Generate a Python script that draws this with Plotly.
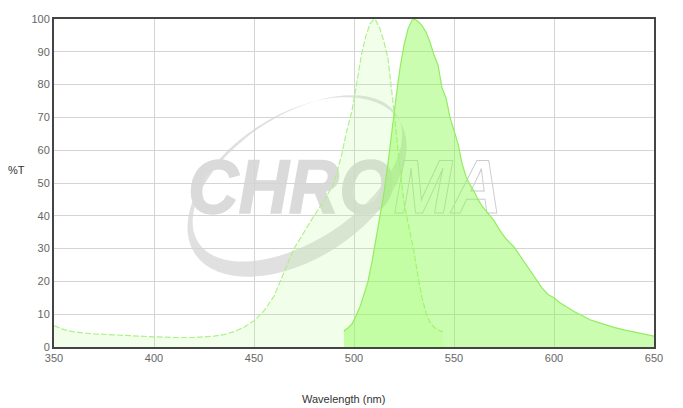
import base64
import plotly.graph_objects as go

# excitation spectrum (dashed, pale fill)
ex_wl = [350, 355, 360, 365, 370, 380, 390, 400, 410, 420, 430, 435, 440, 445,
         450, 455, 460, 463, 466, 470, 475, 480, 485, 490, 494, 496, 499, 501,
         504, 506, 508, 510, 511, 513, 515, 517, 519, 520, 522, 524, 525, 527,
         530, 532, 534, 536, 538, 540, 542, 544.5]
ex_val = [6.5, 5.3, 4.6, 4.2, 4.0, 3.7, 3.3, 3.1, 2.9, 2.9, 3.3, 3.8, 4.7, 6.0,
          8.0, 11.0, 15.5, 20.0, 24.5, 30.0, 35.0, 40.0, 44.5, 50.0, 59.0, 65.0, 72.0, 79.0,
          90.0, 95.0, 98.5, 100.0, 99.5, 97.0, 93.0, 88.0, 78.0, 72.0, 60.0, 49.0, 44.0, 38.0,
          29.0, 21.5, 15.0, 10.5, 7.5, 6.0, 5.2, 4.6]

# emission spectrum (solid fill)
em_wl = [495, 495.5, 497, 499, 501, 503, 505, 507, 509, 511, 513, 515, 517, 519,
         521, 523, 525, 527, 529, 530, 532, 534, 536, 538, 540, 542, 544, 546,
         548, 550, 552, 554, 556, 558, 560, 562, 564, 566, 568, 570, 573, 576,
         580, 584, 588, 591, 594, 597, 600, 603, 606, 610, 614, 618, 622, 626,
         630, 635, 640, 645, 650]
em_val = [4.6, 5.2, 5.8, 7.0, 9.5, 12.3, 16.0, 20.0, 26.0, 33.0, 40.0, 47.0, 56.0, 67.0,
          76.0, 85.0, 92.0, 97.0, 99.6, 100.0, 99.3, 98.0, 96.0, 93.0, 89.0, 86.0, 79.0, 76.0,
          70.0, 66.0, 62.0, 56.0, 52.0, 49.5, 47.5, 45.0, 43.0, 41.5, 40.0, 38.5, 35.5, 33.0,
          30.5, 27.0, 23.5, 20.5, 18.0, 16.0, 15.0, 13.5, 12.3, 10.8, 9.6, 8.3, 7.5, 6.7,
          6.0, 5.2, 4.5, 3.9, 3.3]

x_ticks = [350, 400, 450, 500, 550, 600, 650]
y_ticks = [0, 10, 20, 30, 40, 50, 60, 70, 80, 90, 100]

# watermark logo drawn as an inline svg image behind the traces
logo_svg = """<svg xmlns="http://www.w3.org/2000/svg" width="340" height="220" viewBox="0 0 340 220">
<g transform="translate(117,107) rotate(-33)">
<path fill="#e0e0e0" fill-rule="evenodd"
 d="M -122,0 a 122,72 0 1,0 244,0 a 122,72 0 1,0 -244,0 Z
    M -113,-7 a 118,63 0 1,0 236,0 a 118,63 0 1,0 -236,0 Z"/>
</g>
<text x="8" y="133" font-family="Liberation Sans, Arial, sans-serif" font-weight="bold"
 font-style="italic" font-size="76" textLength="314" lengthAdjust="spacingAndGlyphs"><tspan fill="#dadada" stroke="#dadada" stroke-width="1.5">CHRO</tspan><tspan fill="none" stroke="#cccccc" stroke-width="1">MA</tspan></text>
</svg>"""
logo_src = "data:image/svg+xml;base64," + base64.b64encode(logo_svg.encode()).decode()

fig = go.Figure()
fig.add_trace(go.Scatter(
    x=ex_wl, y=ex_val, mode="lines", fill="tozeroy",
    fillcolor="rgba(185,255,150,0.2)",
    line=dict(color="#b0f08c", width=1.2, dash="6px,2px"),
    name="Excitation"
))
fig.add_trace(go.Scatter(
    x=em_wl, y=em_val, mode="lines", fill="tozeroy",
    fillcolor="rgba(140,250,80,0.45)",
    line=dict(color="#94ec62", width=1.2),
    name="Emission"
))

fig.add_layout_image(dict(
    source=logo_src, xref="x", yref="y", x=413, y=81.4,
    sizex=170, sizey=67.07, sizing="stretch",
    xanchor="left", yanchor="top", layer="below"
))

axis_style = dict(
    showgrid=True, gridcolor="#d4d4d4", gridwidth=1,
    showline=True, linecolor="#444444", linewidth=2, mirror=True,
    zeroline=False, ticks="", automargin=False,
    tickfont=dict(size=11, color="#666666"),
)

# the page body adds an 8px offset, so margins are trimmed on the top/left
fig.update_layout(
    template="none",
    width=683, height=408,
    margin=dict(l=46, r=37, t=11, b=69),
    paper_bgcolor="white", plot_bgcolor="white",
    font=dict(family="Liberation Sans, Arial, sans-serif"),
    showlegend=False,
    xaxis=dict(range=[350, 650], tickvals=x_ticks, **axis_style),
    yaxis=dict(range=[0, 100], tickvals=y_ticks, **axis_style),
    annotations=[
        dict(text="%T", xref="paper", yref="paper", x=-0.063, y=0.54,
             xanchor="center", yanchor="middle",
             showarrow=False, font=dict(size=11, color="#333333")),
        dict(text="Wavelength (nm)", xref="paper", yref="paper", x=0.482, y=-0.1585,
             xanchor="center", yanchor="middle",
             showarrow=False, font=dict(size=11, color="#333333")),
    ],
)

fig.write_html("out.html")
